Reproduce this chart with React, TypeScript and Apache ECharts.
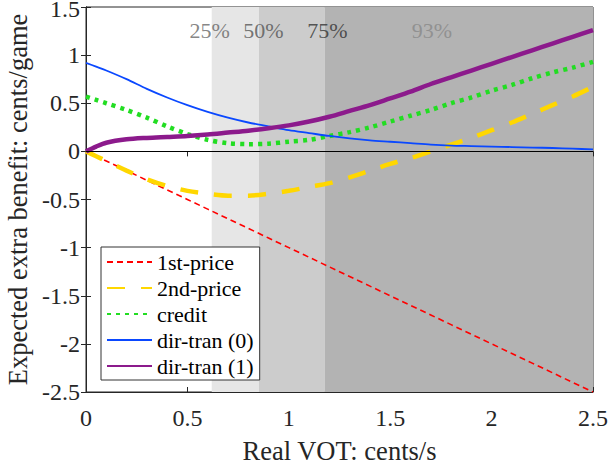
import React, { useEffect, useRef } from "react";
import * as echarts from "echarts";

const xs = [0, 0.05, 0.1, 0.2, 0.3, 0.4, 0.5, 0.6, 0.7, 0.8, 0.9, 1.0, 1.1, 1.2, 1.3, 1.4, 1.5, 1.6, 1.7, 1.8, 1.9, 2.0, 2.1, 2.2, 2.3, 2.4, 2.5];
const firstPrice = [0, -0.05, -0.1, -0.2, -0.3, -0.4, -0.5, -0.6, -0.7, -0.8, -0.9, -1.0, -1.1, -1.2, -1.3, -1.4, -1.5, -1.6, -1.7, -1.8, -1.9, -2.0, -2.1, -2.2, -2.3, -2.4, -2.5];
const secondPrice = [0, -0.05, -0.1, -0.2, -0.29, -0.36, -0.41, -0.44, -0.46, -0.46, -0.44, -0.41, -0.37, -0.33, -0.27, -0.2, -0.13, -0.07, 0.0, 0.07, 0.14, 0.22, 0.3, 0.39, 0.48, 0.57, 0.67];
const credit = [0.57, 0.535, 0.5, 0.43, 0.35, 0.26, 0.18, 0.12, 0.085, 0.075, 0.08, 0.1, 0.12, 0.16, 0.2, 0.25, 0.31, 0.37, 0.43, 0.5, 0.56, 0.63, 0.69, 0.76, 0.82, 0.87, 0.93];
const dirTran0 = [0.92, 0.88, 0.84, 0.75, 0.65, 0.56, 0.48, 0.41, 0.35, 0.3, 0.26, 0.22, 0.19, 0.16, 0.135, 0.115, 0.1, 0.085, 0.07, 0.06, 0.055, 0.05, 0.045, 0.04, 0.035, 0.028, 0.02];
const dirTran1 = [0, 0.05, 0.09, 0.125, 0.14, 0.15, 0.16, 0.175, 0.195, 0.215, 0.24, 0.27, 0.31, 0.36, 0.42, 0.48, 0.55, 0.62, 0.7, 0.77, 0.84, 0.91, 0.98, 1.05, 1.12, 1.19, 1.26];

const seriesNames = ["1st-price", "2nd-price", "credit", "dir-tran (0)", "dir-tran (1)"];

const quantileBounds = [0.62, 0.853, 1.178, 2.5];
const quantileLabels = ["25%", "50%", "75%", "93%"];
const quantileLabelX = [0.61, 0.875, 1.19, 1.706];
const quantileLabelY = 1.26;

const FONT = "'Liberation Serif', 'Times New Roman', serif";

function pair(y: number[]) {
  return xs.map((x, i) => [x, y[i]]);
}

export default function App() {
  const ref = useRef<HTMLDivElement>(null);
  useEffect(() => {
    document.body.style.margin = "0";
    const chart = echarts.init(ref.current!, null, { renderer: "svg" });
    const axisColor = "#262626";
    const labelColors = ["#666666", "#555555", "#333333", "#888888"];
    const areaColors = ["#e6e6e6", "#cccccc", "#b3b3b3"];
    const option: any = {
      animation: false,
      backgroundColor: "#ffffff",
      grid: {
        left: 86,
        right: 16,
        top: 7,
        bottom: 73,
        containLabel: false,
        outerBoundsMode: "none",
        show: true,
        borderColor: axisColor,
        borderWidth: 1,
        backgroundColor: "transparent",
      },
      legend: {
        left: 101,
        top: 247,
        orient: "vertical",
        backgroundColor: "#ffffff",
        borderColor: "#333333",
        borderWidth: 1,
        borderRadius: 0,
        padding: [4, 6, 3, 5],
        itemWidth: 45,
        itemHeight: 20,
        itemGap: 4,
        itemStyle: { opacity: 0, borderWidth: 0 },
        data: seriesNames,
        textStyle: { fontFamily: FONT, fontSize: 22, color: "#000" },
      },
      xAxis: [
        {
          type: "value",
          min: 0,
          max: 2.5,
          interval: 0.5,
          name: "Real VOT: cents/s",
          nameLocation: "middle",
          nameGap: 45,
          nameTextStyle: { fontFamily: FONT, fontSize: 26.5, color: "#262626" },
          axisLine: { show: true, onZero: false, lineStyle: { color: axisColor } },
          axisTick: { show: true, inside: true, length: 5, lineStyle: { color: axisColor } },
          axisLabel: { fontFamily: FONT, fontSize: 24, color: "#262626", margin: 14 },
          splitLine: { show: false },
        },
        {
          type: "value",
          position: "top",
          min: 0,
          max: 2.5,
          interval: 0.5,
          axisLine: { show: true, lineStyle: { color: axisColor } },
          axisTick: { show: true, inside: true, length: 5, lineStyle: { color: axisColor } },
          axisLabel: { show: false },
          splitLine: { show: false },
        },
      ],
      yAxis: [
        {
          type: "value",
          min: -2.5,
          max: 1.5,
          interval: 0.5,
          name: "Expected extra benefit: cents/game",
          nameLocation: "middle",
          nameGap: 53,
          nameTextStyle: { fontFamily: FONT, fontSize: 26.5, color: "#262626" },
          axisLine: { show: true, onZero: false, lineStyle: { color: axisColor } },
          axisTick: { show: true, inside: true, length: 5, lineStyle: { color: axisColor } },
          axisLabel: {
            fontFamily: FONT,
            fontSize: 24,
            lineHeight: 4,
            color: "#262626",
            margin: 6,
            verticalAlignMaxLabel: "top",
          },
          splitLine: { show: false },
        },
        {
          type: "value",
          position: "right",
          min: -2.5,
          max: 1.5,
          interval: 0.5,
          axisLine: { show: true, lineStyle: { color: axisColor } },
          axisTick: { show: true, inside: true, length: 5, lineStyle: { color: axisColor } },
          axisLabel: { show: false },
          splitLine: { show: false },
        },
      ],
      series: [
        {
          name: "shade",
          type: "line",
          data: [],
          z: 0,
          silent: true,
          markArea: {
            silent: true,
            data: areaColors.map((c, i) => [
              { xAxis: quantileBounds[i], itemStyle: { color: c } },
              { xAxis: quantileBounds[i + 1] },
            ]),
          },
          markLine: {
            silent: true,
            symbol: "none",
            label: { show: false },
            lineStyle: { color: "#000000", width: 1, type: "solid" },
            data: [{ yAxis: 0 }],
          },
        },
        {
          name: "labels",
          type: "scatter",
          symbolSize: 0,
          silent: true,
          z: 1,
          data: quantileLabels.map((t, i) => ({
            value: [quantileLabelX[i], quantileLabelY],
            label: {
              show: true,
              formatter: t,
              position: "inside",
              fontFamily: FONT,
              fontSize: 22,
              color: labelColors[i],
            },
          })),
        },
        {
          name: seriesNames[0],
          type: "line",
          data: pair(firstPrice),
          showSymbol: false,
          z: 3,
          lineStyle: { color: "#ff0000", width: 1.6, type: [6, 4] },
          itemStyle: { color: "#ff0000" },
        },
        {
          name: seriesNames[1],
          type: "line",
          data: pair(secondPrice),
          smooth: 0.3,
          showSymbol: false,
          z: 3,
          lineStyle: { color: "#ffd700", width: 4.5, type: [18, 16], cap: "butt" },
          itemStyle: { color: "#ffd700" },
        },
        {
          name: seriesNames[2],
          type: "line",
          data: pair(credit),
          smooth: 0.3,
          showSymbol: false,
          z: 3,
          lineStyle: { color: "#22dd22", width: 4.5, type: [4, 5], cap: "butt" },
          itemStyle: { color: "#22dd22" },
        },
        {
          name: seriesNames[3],
          type: "line",
          data: pair(dirTran0),
          smooth: 0.3,
          showSymbol: false,
          z: 3,
          lineStyle: { color: "#0a48ff", width: 1.8 },
          itemStyle: { color: "#0a48ff" },
        },
        {
          name: seriesNames[4],
          type: "line",
          data: pair(dirTran1),
          smooth: 0.3,
          showSymbol: false,
          z: 3,
          lineStyle: { color: "#8c1a8c", width: 4.5 },
          itemStyle: { color: "#8c1a8c" },
        },
      ],
    };
    chart.setOption(option);
    return () => chart.dispose();
  }, []);
  return <div ref={ref} style={{ width: 609, height: 465 }} />;
}
